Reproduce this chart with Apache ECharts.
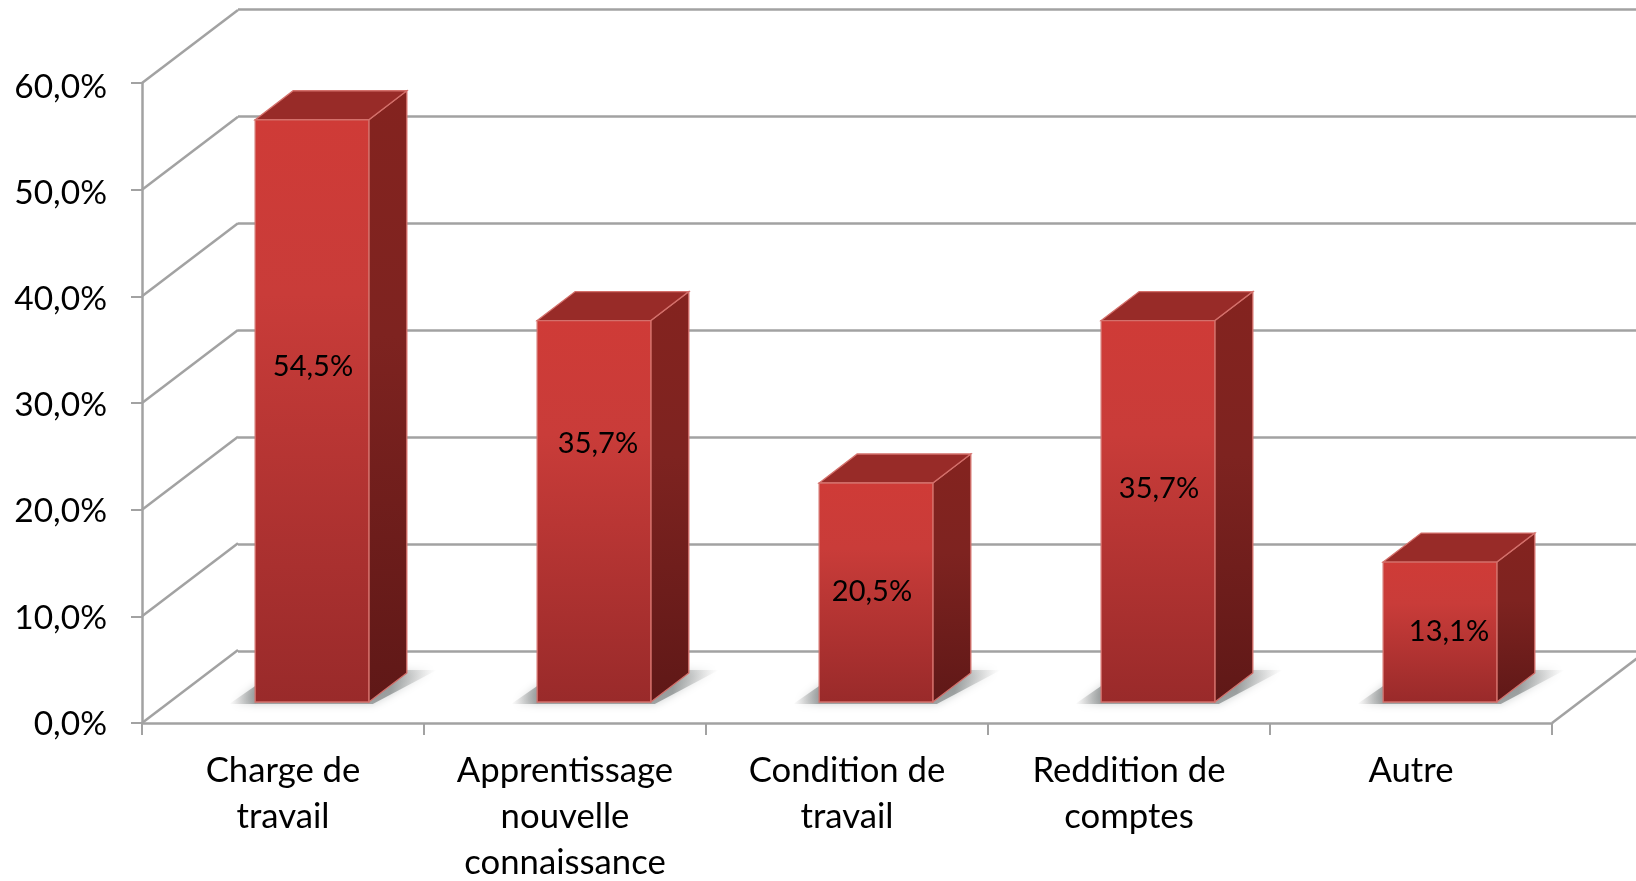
<!DOCTYPE html>
<html><head><meta charset="utf-8">
<style>html,body{margin:0;padding:0;background:#fff}#c{width:1636px;height:881px}</style>
<script src="https://cdn.jsdelivr.net/npm/echarts@6/dist/echarts.min.js"></script>
</head><body><div id="c"></div>
<script>
const categories = ['Charge de\ntravail','Apprentissage\nnouvelle\nconnaissance','Condition de\ntravail','Reddition de\ncomptes','Autre'];
const values = [54.5, 35.7, 20.5, 35.7, 13.1];
const valueLabels = ['54,5%','35,7%','20,5%','35,7%','13,1%'];
const labelAnchor = [31.4, 24.2, 10.3, 20.0, 6.6];
const labelNudge = [1, 4, -4, 1, 9];
const yTicks = [0, 10, 20, 30, 40, 50, 60];

const FONT = 'Lato';
const GRID_COLOR = '#a2a2a2';
const GRID_WIDTH = 2.5;
const WALL = [96, -73];
const BAR_DEPTH = [38, -29];
const BAR_FRACTION = 0.403;

const chart = echarts.init(document.getElementById('c'), null, {renderer:'canvas'});

function wallLines(params, api) {
  const v = api.value(1);
  const p = api.coord([0, v]);
  const x = p[0] - api.size([1, 0])[0] / 2;
  return {type:'line', shape:{x1:x, y1:p[1], x2:x + WALL[0], y2:p[1] + WALL[1]},
          style:{stroke:GRID_COLOR, lineWidth:GRID_WIDTH}, silent:true};
}
function floorEdge(params, api) {
  const p = api.coord([4, 0]);
  const x = p[0] + api.size([1, 0])[0] / 2;
  return {type:'line', shape:{x1:x, y1:p[1], x2:x + WALL[0], y2:p[1] + WALL[1]},
          style:{stroke:GRID_COLOR, lineWidth:GRID_WIDTH}, silent:true};
}
function barShadow(params, api) {
  const base = api.coord([api.value(0), 0]);
  const w = api.size([1, 0])[0] * BAR_FRACTION;
  const x0 = base[0] - w / 2, x1 = base[0] + w / 2, y = base[1];
  const pts = [[x0 - 26, y + 2], [x1 + 4, y + 2], [x1 + 38 + 30, y - 32], [x0 + 30, y - 32], [x0, y - 16]];
  const span = x1 + 68 - (x0 - 26);
  return {type:'polygon', shape:{points:pts}, silent:true,
    style:{
      fill:{type:'linear', x:x0 - 26, y:0, x2:x1 + 68, y2:0, global:true, colorStops:[
        {offset:0, color:'rgba(150,150,150,0)'},
        {offset:26 / span, color:'rgba(130,135,135,0.72)'},
        {offset:(span - 46) / span, color:'rgba(130,135,135,0.72)'},
        {offset:1, color:'rgba(180,180,180,0)'}]},
      shadowBlur:9, shadowColor:'rgba(160,165,165,0.7)'}};
}
function bar3d(params, api) {
  const i = api.value(0), v = api.value(1);
  const base = api.coord([i, 0]), top = api.coord([i, v]);
  const w = api.size([1, 0])[0] * BAR_FRACTION;
  const x0 = base[0] - w / 2, x1 = base[0] + w / 2, yb = base[1], yt = top[1];
  const dx = BAR_DEPTH[0], dy = BAR_DEPTH[1];
  const edge = '#d4706b';
  const txt = api.coord([i, api.value(2)]);
  const grad = stops => ({type:'linear', x:0, y:0, x2:0, y2:1,
    colorStops:stops.map(s => ({offset:s[0], color:s[1]}))});
  return {type:'group', children:[
    {type:'polygon', shape:{points:[[x1, yt],[x1 + dx, yt + dy],[x1 + dx, yb + dy],[x1, yb]]},
      style:{fill:grad([[0,'#84231f'],[0.4,'#7e2320'],[1,'#5f1817']]), stroke:edge, lineWidth:1.3}},
    {type:'polygon', shape:{points:[[x0, yt],[x0 + dx, yt + dy],[x1 + dx, yt + dy],[x1, yt]]},
      style:{fill:'#982b28', stroke:edge, lineWidth:1.3}},
    {type:'rect', shape:{x:x0, y:yt, width:w, height:yb - yt},
      style:{fill:grad([[0,'#cf3b37'],[0.3,'#c93c39'],[1,'#992a2a']]), stroke:edge, lineWidth:1.3}},
    {type:'text', x:base[0] + api.value(3), y:txt[1], z2:10,
      style:{text:valueLabels[i], fill:'#000', font:'29px ' + FONT, align:'center', verticalAlign:'middle'}}
  ]};
}

const hiddenAxis = {show:false};
const option = {
  backgroundColor:'#fff',
  animation:false,
  grid:[
    {left:142, top:83, width:1410, height:640, containLabel:false, outerBoundsMode:'none'},
    {left:171, top:61, width:1410, height:641, containLabel:false, outerBoundsMode:'none'},
    {left:238, top:9, width:1398, height:642, containLabel:false, outerBoundsMode:'none'},
    {left:142, top:87, width:1410, height:637, containLabel:false, outerBoundsMode:'none'}
  ],
  xAxis:[
    {gridIndex:0, type:'category', data:categories, boundaryGap:true,
      axisLine:{lineStyle:{color:GRID_COLOR, width:GRID_WIDTH}},
      axisTick:{show:true, alignWithLabel:false, length:12, lineStyle:{color:GRID_COLOR, width:2}},
      splitLine:{show:false},
      axisLabel:{interval:0, color:'#000', fontFamily:FONT, fontSize:34.7, lineHeight:46, margin:25, hideOverlap:false}},
    {gridIndex:1, type:'category', data:categories, ...hiddenAxis},
    {gridIndex:2, type:'category', data:categories, ...hiddenAxis},
    {gridIndex:3, type:'category', data:categories, ...hiddenAxis}
  ],
  yAxis:[
    {gridIndex:0, type:'value', min:0, max:60, interval:10,
      axisLine:{show:true, lineStyle:{color:GRID_COLOR, width:GRID_WIDTH}},
      axisTick:{show:true, length:11, lineStyle:{color:GRID_COLOR, width:2}},
      splitLine:{show:false}, axisLabel:{show:false}},
    {gridIndex:1, type:'value', min:0, max:60, ...hiddenAxis},
    {gridIndex:2, type:'value', min:0, max:60, interval:10, show:true,
      axisLine:{show:false}, axisTick:{show:false}, axisLabel:{show:false},
      splitLine:{show:true, lineStyle:{color:GRID_COLOR, width:GRID_WIDTH}}},
    {gridIndex:3, type:'value', min:0, max:60, interval:10, show:true,
      axisLine:{show:false}, axisTick:{show:false}, splitLine:{show:false},
      axisLabel:{color:'#000', fontFamily:FONT, fontSize:33.5, margin:35,
        formatter:v => v.toFixed(1).replace('.', ',') + '%'}}
  ],
  series:[
    {type:'custom', name:'murs', xAxisIndex:0, yAxisIndex:0, z:1, clip:false, silent:true,
      data:yTicks.map(t => [0, t]), renderItem:wallLines},
    {type:'custom', name:'sol', xAxisIndex:0, yAxisIndex:0, z:1, clip:false, silent:true,
      data:[[4, 0]], renderItem:floorEdge},
    {type:'custom', name:'ombres', xAxisIndex:1, yAxisIndex:1, z:2, clip:false, silent:true,
      data:values.map((v, i) => [i, v]), renderItem:barShadow},
    {type:'custom', name:'valeurs', xAxisIndex:1, yAxisIndex:1, z:3, clip:false,
      data:values.map((v, i) => [i, v, labelAnchor[i], labelNudge[i]]), renderItem:bar3d}
  ]
};
chart.setOption(option);
</script></body></html>
